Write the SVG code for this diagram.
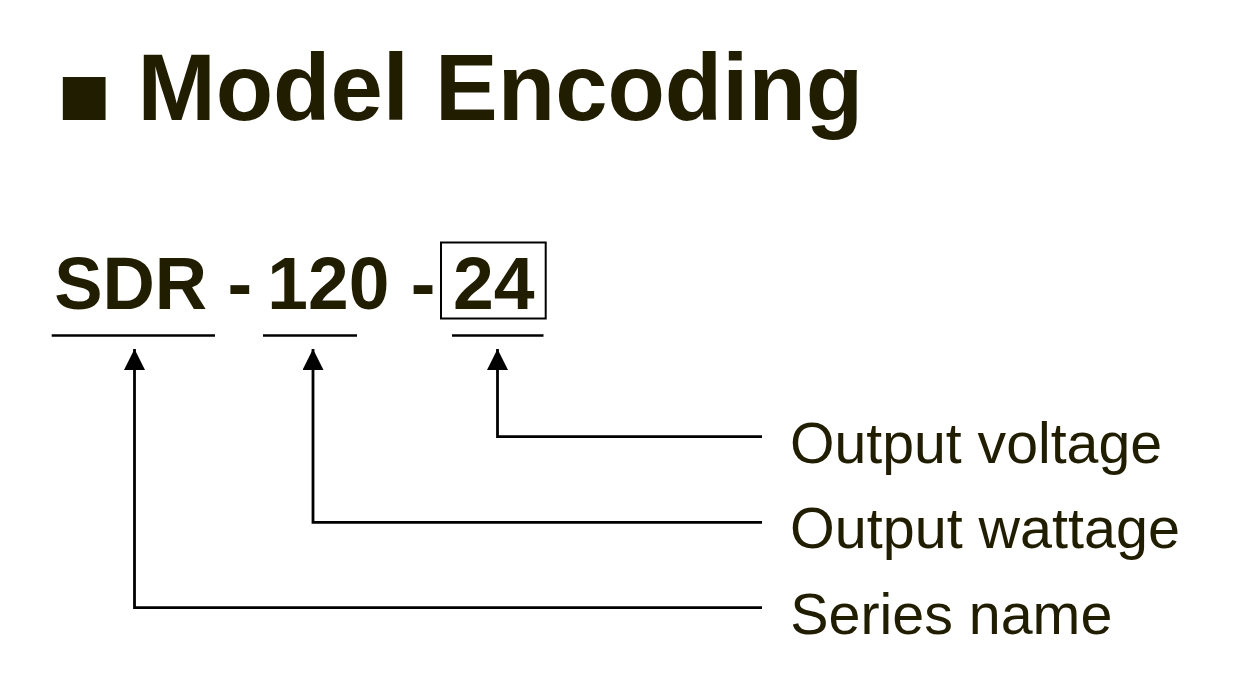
<svg xmlns="http://www.w3.org/2000/svg" width="1243" height="679" viewBox="0 0 1243 679">
  <style>
    .ink { fill: #201d00; }
    .title { font-family: "Liberation Sans", Arial, sans-serif; font-weight: bold; font-size: 94px; }
    .sq { font-family: "DejaVu Sans", sans-serif; font-size: 56px; }
    .code { font-family: "Liberation Sans", Arial, sans-serif; font-weight: bold; font-size: 74px; }
    .label { font-family: "Liberation Sans", Arial, sans-serif; font-size: 58px; }
    .rule { stroke: #000; stroke-width: 2.6; fill: none; }
    .conn { stroke: #000; stroke-width: 2.8; fill: none; }
  </style>
  <defs>
    <marker id="arrow" viewBox="0 0 21 21" refX="21" refY="10.5" markerWidth="21" markerHeight="21" markerUnits="userSpaceOnUse" orient="auto-start-reverse">
      <path d="M0,0 L21,10.5 L0,21 z" fill="#000"/>
    </marker>
  </defs>
  <rect width="1243" height="679" fill="#ffffff"/>

  <g id="title">
    <text class="ink sq" x="57.8" y="112.7">■</text>
    <text class="ink title" x="137.4" y="119.5">Model Encoding</text>
  </g>

  <g id="model-code">
    <g id="series-code">
      <text class="ink code" x="54.2" y="308.5" textLength="153" lengthAdjust="spacingAndGlyphs">SDR</text>
      <line class="rule" x1="51.7" y1="335.5" x2="215" y2="335.5"/>
    </g>
    <text class="ink code" x="227.4" y="308.5">-</text>
    <g id="wattage-code">
      <text class="ink code" x="267.3" y="308.5" textLength="122" lengthAdjust="spacingAndGlyphs">120</text>
      <line class="rule" x1="263" y1="335.5" x2="357" y2="335.5"/>
    </g>
    <text class="ink code" x="410.7" y="308.5">-</text>
    <g id="voltage-code">
      <rect x="441" y="242.5" width="104.7" height="76" fill="none" stroke="#000" stroke-width="2"/>
      <text class="ink code" x="453" y="308.5" textLength="81.6" lengthAdjust="spacingAndGlyphs">24</text>
      <line class="rule" x1="452" y1="335.5" x2="543.5" y2="335.5"/>
    </g>
  </g>

  <g id="connectors">
    <path class="conn" d="M134.5,349 V607.6 H762" marker-start="url(#arrow)"/>
    <path class="conn" d="M313,349 V522.3 H762" marker-start="url(#arrow)"/>
    <path class="conn" d="M497.5,349 V436.7 H762" marker-start="url(#arrow)"/>
  </g>

  <g id="label-voltage">
    <text class="ink label" x="790" y="462.5" textLength="372" lengthAdjust="spacingAndGlyphs">Output voltage</text>
  </g>
  <g id="label-wattage">
    <text class="ink label" x="790" y="548" textLength="390" lengthAdjust="spacingAndGlyphs">Output wattage</text>
  </g>
  <g id="label-series">
    <text class="ink label" x="790.3" y="633.5" textLength="322" lengthAdjust="spacingAndGlyphs">Series name</text>
  </g>
</svg>
